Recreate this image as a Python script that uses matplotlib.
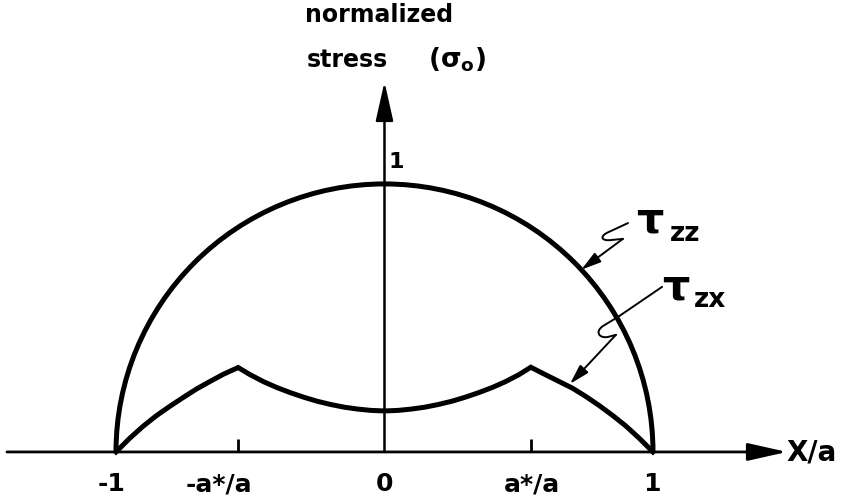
import matplotlib
matplotlib.use("Agg")
import matplotlib.pyplot as plt
from matplotlib.patches import Arc, PathPatch
from matplotlib.path import Path

# ---- data -------------------------------------------------------------
# normal stress tau_zz: semi-elliptical profile of unit peak over |x/a| <= 1
tzz_peak = 1.0
tzz_half_width = 1.0

# shear stress tau_zx read along x/a
tzx_x = [-1.00, -0.95, -0.90, -0.85, -0.80, -0.75, -0.70, -0.65, -0.60, -0.545,
         -0.50, -0.45, -0.40, -0.35, -0.30, -0.25, -0.20, -0.15, -0.10, -0.05,
         0.00,
         0.05, 0.10, 0.15, 0.20, 0.25, 0.30, 0.35, 0.40, 0.45, 0.50,
         0.545, 0.60, 0.65, 0.70, 0.75, 0.80, 0.85, 0.90, 0.95, 1.00]
tzx_y = [0.000, 0.050, 0.095, 0.135, 0.170, 0.203, 0.235, 0.263, 0.290, 0.315,
         0.288, 0.262, 0.240, 0.221, 0.204, 0.189, 0.177, 0.167, 0.160, 0.155,
         0.153,
         0.155, 0.160, 0.167, 0.177, 0.189, 0.204, 0.221, 0.240, 0.262, 0.288,
         0.316, 0.288, 0.263, 0.238, 0.207, 0.173, 0.136, 0.096, 0.050, 0.000]

stick_edge = 0.545            # a*/a
tick_values = [-1.0, -stick_edge, 0.0, stick_edge, 1.0]
tick_labels = ["-1", "-a*/a", "0", "a*/a", "1"]

# ---- figure -----------------------------------------------------------
fig = plt.figure(figsize=(8.42, 5.02), dpi=100)
ax = fig.add_axes([0, 0, 1, 1])
ax.set_xlim(-1.432, 1.704)
ax.set_ylim(-0.183, 1.690)
ax.axis("off")

FONT = "DejaVu Sans"
LW_CURVE = 3.6
LW_AXIS = 2.0

# axes with arrow heads
ax.annotate("", xy=(1.499, 0), xytext=(-1.406, 0),
            arrowprops=dict(arrowstyle="-|>,head_length=1.6,head_width=0.36",
                            mutation_scale=15, lw=LW_AXIS, color="k",
                            shrinkA=0, shrinkB=0))
ax.annotate("", xy=(0, 1.381), xytext=(0, 0),
            arrowprops=dict(arrowstyle="-|>,head_length=1.6,head_width=0.36",
                            mutation_scale=15, lw=1.8, color="k",
                            shrinkA=0, shrinkB=0))

# small ticks at +/- a*/a
for xv in (-stick_edge, stick_edge):
    ax.plot([xv, xv], [0, 0.048], color="k", lw=LW_AXIS, solid_capstyle="butt")

# tau_zz semicircle
ax.add_patch(Arc((0, 0), 2 * tzz_half_width, 2 * tzz_peak, theta1=0, theta2=180,
                 lw=LW_CURVE, color="k"))

# tau_zx curve
ax.plot(tzx_x, tzx_y, color="k", lw=LW_CURVE, solid_joinstyle="miter")

# tick labels
label_dx = {"-1": -0.015, "-a*/a": -0.07, "0": 0.0, "a*/a": 0.005, "1": -0.005}
for xv, lab in zip(tick_values, tick_labels):
    ax.text(xv + label_dx[lab], -0.116, lab, ha="center", va="center",
            fontsize=18, fontweight="bold", family=FONT)

ax.text(1.592, 0.0, "X/a", ha="center", va="center",
        fontsize=20, fontweight="bold", family=FONT)

# y-axis title
ax.text(-0.296, 1.608, "normalized", ha="left", va="baseline",
        fontsize=17, fontweight="bold", family=FONT)
ax.text(-0.289, 1.440, "stress", ha="left", va="baseline",
        fontsize=17, fontweight="bold", family=FONT)
ax.text(0.162, 1.440, r"$\mathbf{(\sigma_o)}$", ha="left", va="baseline",
        fontsize=19, family=FONT)

# peak value label
ax.text(0.043, 1.086, "1", ha="center", va="center",
        fontsize=16, fontweight="bold", family=FONT)

# curve names
ax.text(0.990, 0.866, "τ", ha="center", va="center", fontsize=31,
        fontweight="bold", family=FONT)
ax.text(1.118, 0.818, "zz", ha="center", va="center", fontsize=19,
        fontweight="bold", family=FONT)
ax.text(1.085, 0.619, "τ", ha="center", va="center", fontsize=31,
        fontweight="bold", family=FONT)
ax.text(1.212, 0.570, "zx", ha="center", va="center", fontsize=19,
        fontweight="bold", family=FONT)

# wavy leader lines with arrows
def leader(verts, codes, tail, tip):
    ax.add_patch(PathPatch(Path(verts, codes), fill=False, lw=1.4, ec="k",
                           capstyle="round", joinstyle="round"))
    ax.annotate("", xy=tip, xytext=tail,
                arrowprops=dict(arrowstyle="-|>,head_length=0.6,head_width=0.17",
                                mutation_scale=20, lw=1.4, color="k",
                                shrinkA=0, shrinkB=0))

leader([(0.907, 0.854), (0.836, 0.821), (0.800, 0.806), (0.805, 0.785),
        (0.847, 0.791), (0.888, 0.795)],
       [Path.MOVETO, Path.LINETO, Path.CURVE4, Path.CURVE4, Path.CURVE4,
        Path.LINETO],
       tail=(0.888, 0.795), tip=(0.733, 0.680))

leader([(1.034, 0.616), (0.870, 0.504), (0.814, 0.470), (0.782, 0.448),
        (0.800, 0.423), (0.832, 0.429), (0.862, 0.437)],
       [Path.MOVETO, Path.LINETO, Path.LINETO, Path.CURVE4, Path.CURVE4,
        Path.CURVE4, Path.LINETO],
       tail=(0.862, 0.437), tip=(0.691, 0.254))

fig.savefig("out.png", dpi=100, facecolor="white")
